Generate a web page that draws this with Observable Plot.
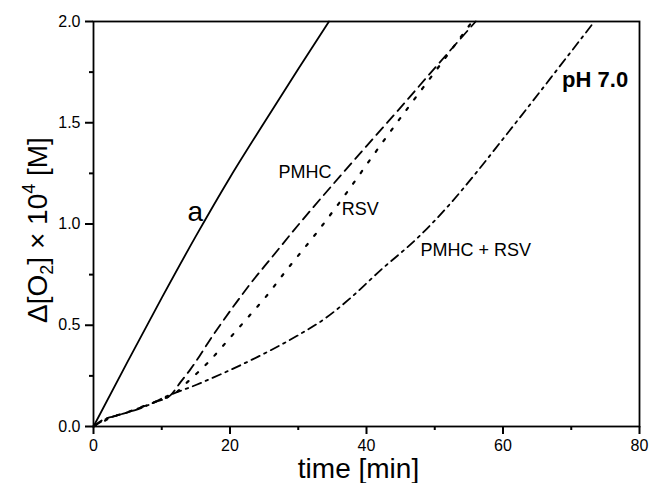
<!DOCTYPE html>
<html>
<head>
<meta charset="utf-8">
<script src="https://cdn.jsdelivr.net/npm/d3@7"></script>
<script src="https://cdn.jsdelivr.net/npm/@observablehq/plot@0.6"></script>
<style>
  html, body { margin: 0; padding: 0; background: #fff; }
  #chart { width: 649px; height: 483px; }
</style>
</head>
<body>
<div id="chart"></div>
<script>
// ---- data ----
// curve "a" (solid)
const tA = [0, 5, 10, 15, 20, 25, 30, 34.5];
const vA = [0, 0.32, 0.635, 0.94, 1.23, 1.5, 1.765, 2.0];
// PMHC (dashed)
const tPMHC = [0, 1.5, 3, 5, 7, 9, 11.3, 12.75, 14.2, 17.6, 21.05, 23.1, 26, 30, 35.2, 40, 44.6, 50, 56.0];
const vPMHC = [0, 0.035, 0.05, 0.07, 0.095, 0.12, 0.155, 0.219, 0.282, 0.455, 0.618, 0.71, 0.83, 0.995, 1.2, 1.385, 1.56, 1.77, 2.0];
// RSV (dotted)
const tRSV = [0, 1, 2.5, 4.5, 6.5, 8.5, 10.5, 11.8, 14, 16.9, 19.8, 23.7, 25, 28, 33, 37, 41, 46.1, 50, 55.5];
const vRSV = [0, 0.015, 0.045, 0.065, 0.09, 0.115, 0.14, 0.16, 0.227, 0.32, 0.43, 0.58, 0.63, 0.76, 0.97, 1.15, 1.34, 1.575, 1.75, 2.0];
// PMHC + RSV (dash-dot)
const tMix = [0, 2, 4, 6, 8, 10.3, 15, 19.9, 25, 29.9, 34, 37.5, 42, 47.6, 52, 56, 60, 64.2, 68, 73.4];
const vMix = [0, 0.04, 0.06, 0.08, 0.105, 0.143, 0.205, 0.277, 0.36, 0.449, 0.535, 0.63, 0.77, 0.935, 1.09, 1.25, 1.42, 1.6, 1.765, 2.0];

// axis ticks
const xMajor = [0, 20, 40, 60, 80];
const xMinor = [10, 30, 50, 70];
const yMajor = [0, 0.5, 1.0, 1.5, 2.0];
const yMinor = [0.25, 0.75, 1.25, 1.75];

// curve labels (text and data-space anchor)
const labelText = ["PMHC", "RSV", "PMHC + RSV"];
const labelT = [31.0, 39.1, 56.0];
const labelV = [1.257, 1.074, 0.872];
const labelAText = ["a"];
const labelAT = [14.9];
const labelAV = [1.06];
const phText = ["pH 7.0"];
const phT = [73.5];
const phV = [1.71];

// ---- build tables ----
const toRows = (ts, vs) => ts.map((t, i) => ({t, v: vs[i]}));
const rowsA = toRows(tA, vA);
const rowsPMHC = toRows(tPMHC, vPMHC);
const rowsRSV = toRows(tRSV, vRSV);
const rowsMix = toRows(tMix, vMix);
const labels = labelText.map((s, i) => ({s, t: labelT[i], v: labelV[i]}));
const labelsA = labelAText.map((s, i) => ({s, t: labelAT[i], v: labelAV[i]}));
const labelsPH = phText.map((s, i) => ({s, t: phT[i], v: phV[i]}));

const FONT = "'Liberation Sans', Arial, Helvetica, sans-serif";
const LW = 1.8;
const CURVE = "monotone-x";

const chart = Plot.plot({
  width: 649,
  height: 483,
  marginLeft: 93,
  marginRight: 10,
  marginTop: 21,
  marginBottom: 57,
  style: {fontFamily: FONT, background: "white", color: "black", fontSize: "16px"},
  x: {domain: [0, 80]},
  y: {domain: [0, 2]},
  marks: [
    Plot.axisY({ticks: yMajor, tickSize: 8, tickPadding: 5, tickFormat: d3.format(".1f"), fontSize: 16, label: null, stroke: "black", strokeWidth: 2}),
    Plot.axisY({ticks: yMinor, tickSize: 4, tickFormat: () => "", label: null, stroke: "black", strokeWidth: 2}),
    Plot.axisX({ticks: xMajor, tickSize: 8, tickPadding: 5, tickFormat: d3.format("d"), fontSize: 16, label: null, stroke: "black", strokeWidth: 2}),
    Plot.axisX({ticks: xMinor, tickSize: 4, tickFormat: () => "", label: null, stroke: "black", strokeWidth: 2}),
    Plot.line(rowsA, {x: "t", y: "v", stroke: "black", strokeWidth: LW, curve: CURVE}),
    Plot.line(rowsPMHC, {x: "t", y: "v", stroke: "black", strokeWidth: LW, strokeDasharray: "10,6", curve: CURVE}),
    Plot.line(rowsRSV, {x: "t", y: "v", stroke: "black", strokeWidth: LW + 0.4, strokeDasharray: "2.5,10.5", curve: CURVE}),
    Plot.line(rowsMix, {x: "t", y: "v", stroke: "black", strokeWidth: LW, strokeDasharray: "9,5,2.5,5", curve: CURVE}),
    Plot.frame({stroke: "black", strokeWidth: LW}),
    Plot.text(labels, {x: "t", y: "v", text: "s", fontSize: 18, fill: "black", textAnchor: "middle", lineAnchor: "middle"}),
    Plot.text(labelsA, {x: "t", y: "v", text: "s", fontSize: 28, fill: "black", textAnchor: "middle", lineAnchor: "middle"}),
    Plot.text(labelsPH, {x: "t", y: "v", text: "s", fontSize: 22, fontWeight: "bold", fill: "black", textAnchor: "middle", lineAnchor: "middle"})
  ]
});

const svg = d3.select(chart);
// x-axis title
svg.append("text")
  .attr("x", 358.5).attr("y", 478)
  .attr("text-anchor", "middle")
  .attr("font-family", FONT)
  .attr("font-size", 28)
  .attr("fill", "black")
  .text("time [min]");

// y-axis title with subscript and superscript
const yt = svg.append("text")
  .attr("transform", "translate(47,230) rotate(-90)")
  .attr("text-anchor", "middle")
  .attr("font-family", FONT)
  .attr("font-size", 28)
  .attr("fill", "black");
yt.append("tspan").text("\u0394[O");
yt.append("tspan").attr("font-size", 18).attr("dy", 6).text("2");
yt.append("tspan").attr("dy", -6).text("] \u00d7 10");
yt.append("tspan").attr("font-size", 18).attr("dy", -12).text("4");
yt.append("tspan").attr("dy", 12).text(" [M]");

document.getElementById("chart").appendChild(chart);
</script>
</body>
</html>
